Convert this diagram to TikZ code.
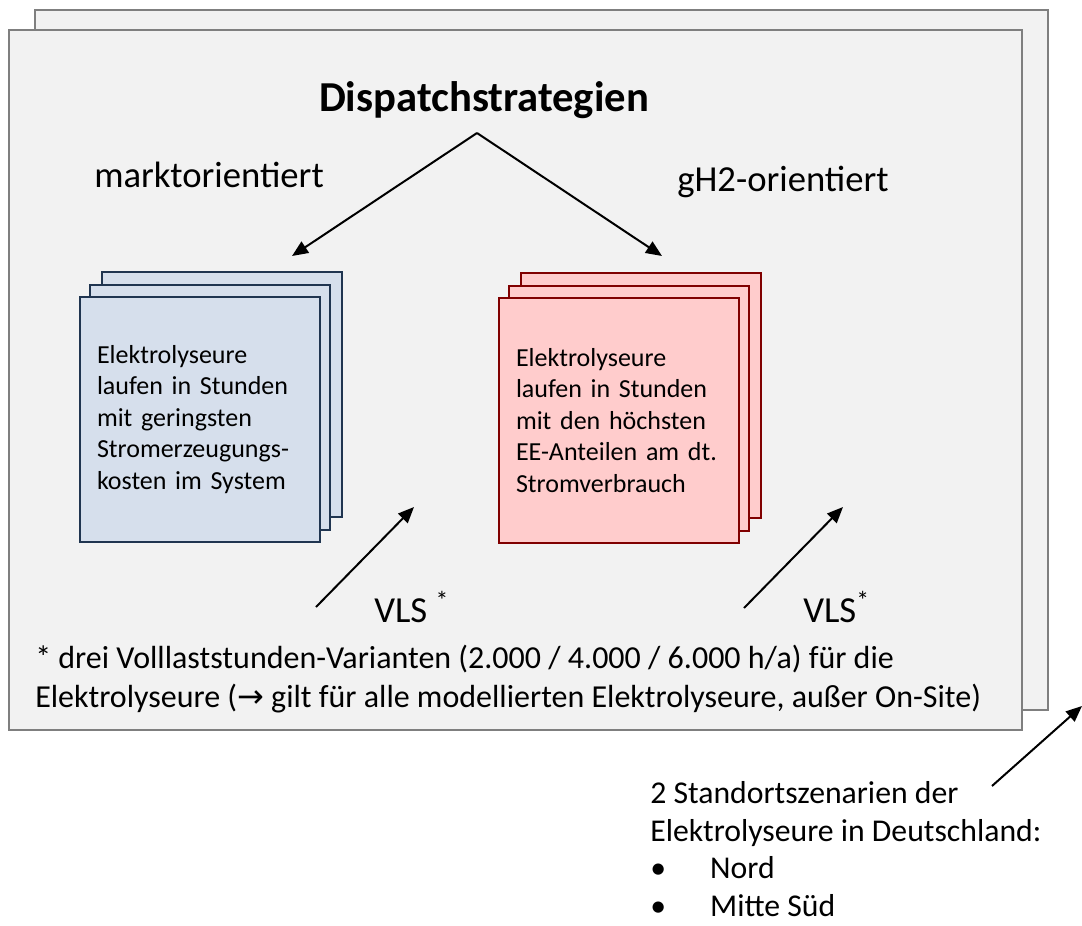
\documentclass[tikz,border=0pt]{standalone}
\usepackage{fontspec}
\setmainfont{Carlito}
\newfontfamily\arrowfont{DejaVu Sans}
\usetikzlibrary{arrows.meta,positioning}
\definecolor{pagegray}{HTML}{F2F2F2}
\definecolor{pageline}{HTML}{7F7F7F}
\definecolor{navy}{HTML}{203550}
\definecolor{lightblue}{HTML}{D6DFEC}
\definecolor{darkred}{HTML}{800000}
\definecolor{lightred}{HTML}{FFCCCC}
\tikzset{
 page/.style={draw=pageline,fill=pagegray,line width=1.8pt},
 layer/.style={line width=1.5pt,minimum width=180pt,minimum height=183.75pt,inner sep=0pt},
 bluelayer/.style={layer,draw=navy,fill=lightblue},
 redlayer/.style={layer,draw=darkred,fill=lightred},
 boxtext/.style={text width=154.5pt,align=left,font=\fontsize{19.5}{23.6}\selectfont},
 arrow/.style={-{Triangle[length=12pt,width=10pt]},line width=1.5pt,draw=black},
 strategy/.style={font=\fontsize{27.5}{33}\selectfont,inner sep=0pt},
 note/.style={align=left,inner sep=0pt,anchor=base west}
}
\begin{document}
\begin{tikzpicture}[x=0.75pt,y=-0.75pt]
\useasboundingbox (0,0) rectangle (1082,925);
% two pages (site scenarios)
\draw[page] (35,10) rectangle (1048,710);
\draw[page] (9,30) rectangle (1022,730);

\node[font=\fontsize{32}{38}\selectfont\bfseries] (title) at (484,100) {Dispatchstrategien};
\node[strategy] (mkt) at (209,175) {marktorientiert};
\node[strategy] (gh2) at (783,182) {gH2-orientiert};

% stacks of electrolyser runs
\node[bluelayer] (mktback) at (222,394.5) {};
\node[bluelayer] (mktmid) at (210,407.5) {};
\node[bluelayer,boxtext] (mktbox) at (200,419.5) {Elektrolyseure\\laufen in Stunden\\mit geringsten\\Stromerzeugungs-\\kosten im System};
\node[redlayer] (gh2back) at (641,395.5) {};
\node[redlayer] (gh2mid) at (629,408) {};
\node[redlayer,boxtext] (gh2box) at (619,420.5) {Elektrolyseure\\laufen in Stunden\\mit den höchsten\\EE-Anteilen am dt.\\Stromverbrauch};

\coordinate (apex) at (477,133);
\coordinate (mkttip) at (292,256);
\coordinate (gh2tip) at (662,256);
\draw[arrow] (apex)--(mkttip);
\draw[arrow] (apex)--(gh2tip);

% full load hours
\coordinate (vlsmktfrom) at (316,607);
\coordinate (vlsmktto) at (414,507);
\coordinate (vlsgh2from) at (744,608);
\coordinate (vlsgh2to) at (843,507);
\draw[arrow] (vlsmktfrom)--(vlsmktto);
\draw[arrow] (vlsgh2from)--(vlsgh2to);
\node[strategy,anchor=base west] (vlsmkt) at (374,622) {VLS \textsuperscript{*}};
\node[strategy,anchor=base west] (vlsgh2) at (803,622) {VLS\textsuperscript{*}};

\node[note,font=\fontsize{24}{29.25}\selectfont] (footnote) at (35,707) {* drei Volllaststunden-Varianten (2.000 / 4.000 / 6.000 h/a) für die\\Elektrolyseure ({\arrowfont →} gilt für alle modellierten Elektrolyseure, außer On-Site)};

% site scenarios
\node[note,font=\fontsize{23.8}{28.1}\selectfont] (sites) at (650,916) {2 Standortszenarien der\\Elektrolyseure in Deutschland:\\\makebox[45pt][l]{\textbullet}Nord\\\makebox[45pt][l]{\textbullet}Mitte Süd};
\coordinate (sitesfrom) at (992,786);
\coordinate (sitesto) at (1082,706);
\draw[arrow] (sitesfrom)--(sitesto);
\end{tikzpicture}
\end{document}
